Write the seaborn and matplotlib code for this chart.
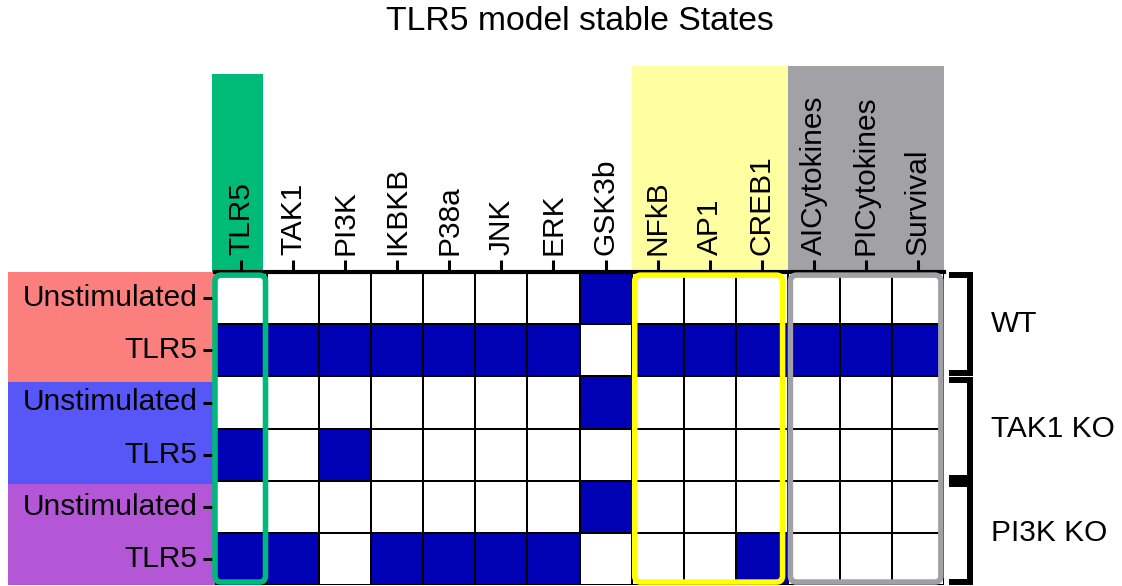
import numpy as np
import pandas as pd
import matplotlib
matplotlib.use('Agg')
import matplotlib.pyplot as plt
import seaborn as sns
from matplotlib.colors import ListedColormap
from matplotlib.patches import Rectangle, FancyBboxPatch

# Network nodes (columns) and simulated conditions (rows)
nodes = ['TLR5', 'TAK1', 'PI3K', 'IKBKB', 'P38a', 'JNK', 'ERK', 'GSK3b',
         'NFkB', 'AP1', 'CREB1', 'AICytokines', 'PICytokines', 'Survival']
conditions = ['Unstimulated', 'TLR5', 'Unstimulated', 'TLR5', 'Unstimulated', 'TLR5']
groups = ['WT', 'TAK1 KO', 'PI3K KO']

# Stable state of each node: 1 = active (blue), 0 = inactive (white)
wt_unstim = [0, 0, 0, 0, 0, 0, 0, 1, 0, 0, 0, 0, 0, 0]
wt_tlr5 = [1, 1, 1, 1, 1, 1, 1, 0, 1, 1, 1, 1, 1, 1]
tak1ko_unstim = [0, 0, 0, 0, 0, 0, 0, 1, 0, 0, 0, 0, 0, 0]
tak1ko_tlr5 = [1, 0, 1, 0, 0, 0, 0, 0, 0, 0, 0, 0, 0, 0]
pi3kko_unstim = [0, 0, 0, 0, 0, 0, 0, 1, 0, 0, 0, 0, 0, 0]
pi3kko_tlr5 = [1, 1, 0, 1, 1, 1, 1, 0, 0, 0, 1, 0, 0, 0]

states = pd.DataFrame([wt_unstim, wt_tlr5, tak1ko_unstim, tak1ko_tlr5,
                       pi3kko_unstim, pi3kko_tlr5], columns=nodes)

plt.rcParams['font.family'] = ['Liberation Sans', 'DejaVu Sans']

fig = plt.figure(figsize=(11.22, 5.86), dpi=100)
ax = fig.add_axes([215 / 1122, 0.8 / 586, 729 / 1122, 313.2 / 586])

sns.heatmap(states, ax=ax, cmap=ListedColormap(['white', '#0000B4']),
            vmin=0, vmax=1, cbar=False, linewidths=1.2, linecolor='black',
            xticklabels=nodes, yticklabels=conditions)

ax.xaxis.tick_top()
ax.set_xticklabels(nodes, rotation=90, fontsize=21.5)
ax.set_yticklabels(conditions, rotation=0, fontsize=21.5)
ax.tick_params(length=9, width=2.2, pad=3.5, color='black')
ax.set_xlabel('')
ax.set_ylabel('')
ax.spines['top'].set_visible(True)
ax.spines['top'].set_linewidth(3)

# Header backgrounds behind column groups
ax.add_patch(Rectangle((-0.06, -3.79), 0.98, 3.79, color='#00BB77', lw=0,
                       clip_on=False, zorder=0.3))
ax.add_patch(Rectangle((8, -3.95), 3, 3.95, color='#FFFFA1', lw=0,
                       clip_on=False, zorder=0.3))
ax.add_patch(Rectangle((11, -3.95), 3, 3.95, color='#A2A2A6', lw=0,
                       clip_on=False, zorder=0.3))

# Row backgrounds behind condition labels
row_colors = ['#FB7F7D', '#5757F7', '#B457D6']
row_bounds = [0, 2.1, 4.06, 6]
for i, c in enumerate(row_colors):
    ax.add_patch(Rectangle((-3.97, row_bounds[i]), 3.97,
                           row_bounds[i + 1] - row_bounds[i], color=c, lw=0,
                           clip_on=False, zorder=0.3))

# Outline boxes around column groups
for x0, x1, c in [(0.0, 0.97, '#00B877'), (8.06, 10.9, '#FFFF00'),
                  (11.05, 13.94, '#A0A0A5')]:
    ax.add_patch(FancyBboxPatch((x0, 0.06), x1 - x0, 5.88,
                                boxstyle='round,pad=0,rounding_size=0.12',
                                fill=False, ec=c, lw=4, clip_on=False, zorder=4))

# Brackets and group labels on the right
for i, g in enumerate(groups):
    y0, y1 = 2 * i + 0.06, 2 * i + 1.94
    ax.plot([14.1, 14.5, 14.5, 14.1], [y0, y0, y1, y1], color='black', lw=4.3,
            solid_joinstyle='miter', solid_capstyle='butt', clip_on=False)
    ax.text(14.9, 2 * i + 1, g, ha='left', va='center', fontsize=21.5)

fig.text(579.5 / 1122, 1 - 22 / 586, 'TLR5 model stable States',
         ha='center', va='center', fontsize=24.3)

fig.savefig('out.png', dpi=100)
